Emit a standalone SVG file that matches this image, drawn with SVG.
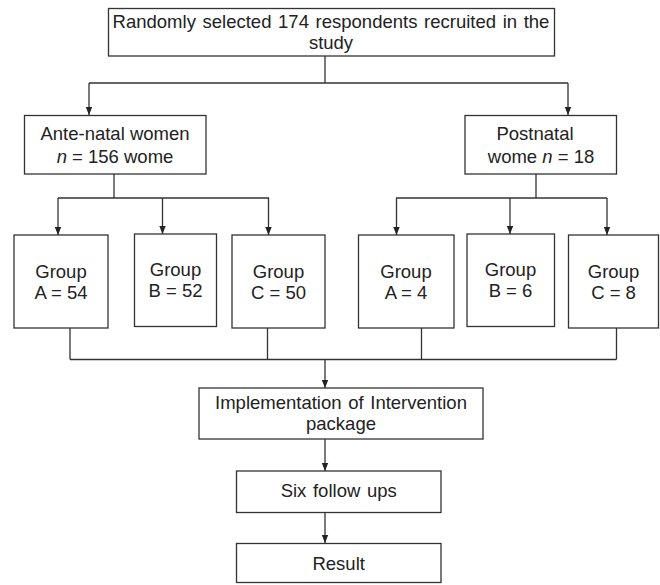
<svg xmlns="http://www.w3.org/2000/svg" width="660" height="585" viewBox="0 0 660 585">
<style>
.box{fill:#fff;stroke:#333;stroke-width:1.3}
.ln{fill:none;stroke:#333;stroke-width:1.3}
text{font-family:"Liberation Sans",Arial,sans-serif;font-size:18.5px;fill:#222;text-anchor:middle}
.ws{word-spacing:1.5px}
</style>
<defs>
<marker id="ah" viewBox="0 0 8 8" refX="8" refY="4" markerWidth="8" markerHeight="8" markerUnits="userSpaceOnUse" orient="auto">
<path d="M0,0.8 L8,4 L0,7.2 Z" fill="#222"/>
</marker>
</defs>
<rect width="660" height="585" fill="#fff"/>
<g id="connectors">
<path class="ln" d="M325,56 V83 M89,83 H568"/>
<path class="ln" d="M89,83 V115" marker-end="url(#ah)"/>
<path class="ln" d="M568,83 V115" marker-end="url(#ah)"/>
<path class="ln" d="M114,174 V198 M58,198 H269 M536,174 V198 M396,198 H607"/>
<path class="ln" d="M58,198 V235" marker-end="url(#ah)"/>
<path class="ln" d="M162.5,198 V234" marker-end="url(#ah)"/>
<path class="ln" d="M268.5,198 V235" marker-end="url(#ah)"/>
<path class="ln" d="M396.5,198 V235" marker-end="url(#ah)"/>
<path class="ln" d="M510,198 V234" marker-end="url(#ah)"/>
<path class="ln" d="M607,198 V235" marker-end="url(#ah)"/>
<path class="ln" d="M70,328 V359.5 M267.5,328 V359.5 M421.5,328 V359.5 M616.5,328 V359.5 M70,359.5 H616.5"/>
<path class="ln" d="M325,359.5 V388" marker-end="url(#ah)"/>
<path class="ln" d="M325,439 V471" marker-end="url(#ah)"/>
<path class="ln" d="M325,512 V543" marker-end="url(#ah)"/>
</g>
<g id="n_top">
<rect class="box" x="108.5" y="8.5" width="446" height="47.5"/>
<text class="ws" x="331" y="28">Randomly selected 174 respondents recruited in the</text>
<text x="331" y="49">study</text>
</g>
<g id="n_antenatal">
<rect class="box" x="24.5" y="115.5" width="181.5" height="58.5"/>
<text x="115" y="139.5">Ante-natal women</text>
<text x="115" y="162.5"><tspan font-style="italic">n</tspan> = 156 wome</text>
</g>
<g id="n_postnatal">
<rect class="box" x="465" y="115.5" width="151.5" height="58.5"/>
<text x="535" y="139.5">Postnatal</text>
<text x="541" y="162.5">wome <tspan font-style="italic">n</tspan> = 18</text>
</g>
<g id="n_a54">
<rect class="box" x="14" y="235" width="94" height="93"/>
<text x="61" y="277.5">Group</text>
<text x="61" y="298.5">A = 54</text>
</g>
<g id="n_b52">
<rect class="box" x="134.5" y="234" width="82" height="92.5"/>
<text x="175.5" y="276">Group</text>
<text x="175.5" y="297">B = 52</text>
</g>
<g id="n_c50">
<rect class="box" x="232" y="235" width="93" height="93"/>
<text x="278.5" y="277.5">Group</text>
<text x="278.5" y="298.5">C = 50</text>
</g>
<g id="n_a4">
<rect class="box" x="358.5" y="235" width="95.5" height="93"/>
<text x="406" y="277.5">Group</text>
<text x="406" y="298.5">A = 4</text>
</g>
<g id="n_b6">
<rect class="box" x="467" y="234" width="87.5" height="92.5"/>
<text x="510.5" y="276">Group</text>
<text x="510.5" y="297">B = 6</text>
</g>
<g id="n_c8">
<rect class="box" x="568.5" y="235" width="90" height="93"/>
<text x="613.5" y="277.5">Group</text>
<text x="613.5" y="298.5">C = 8</text>
</g>
<g id="n_impl">
<rect class="box" x="199" y="388" width="284" height="51"/>
<text class="ws" x="341" y="408.5">Implementation of Intervention</text>
<text x="341" y="429.5">package</text>
</g>
<g id="n_six">
<rect class="box" x="236.5" y="471" width="204.5" height="41.5"/>
<text class="ws" x="338.7" y="496.5">Six follow ups</text>
</g>
<g id="n_result">
<rect class="box" x="236.5" y="543.5" width="204.5" height="39"/>
<text x="338.7" y="569.5">Result</text>
</g>
</svg>
